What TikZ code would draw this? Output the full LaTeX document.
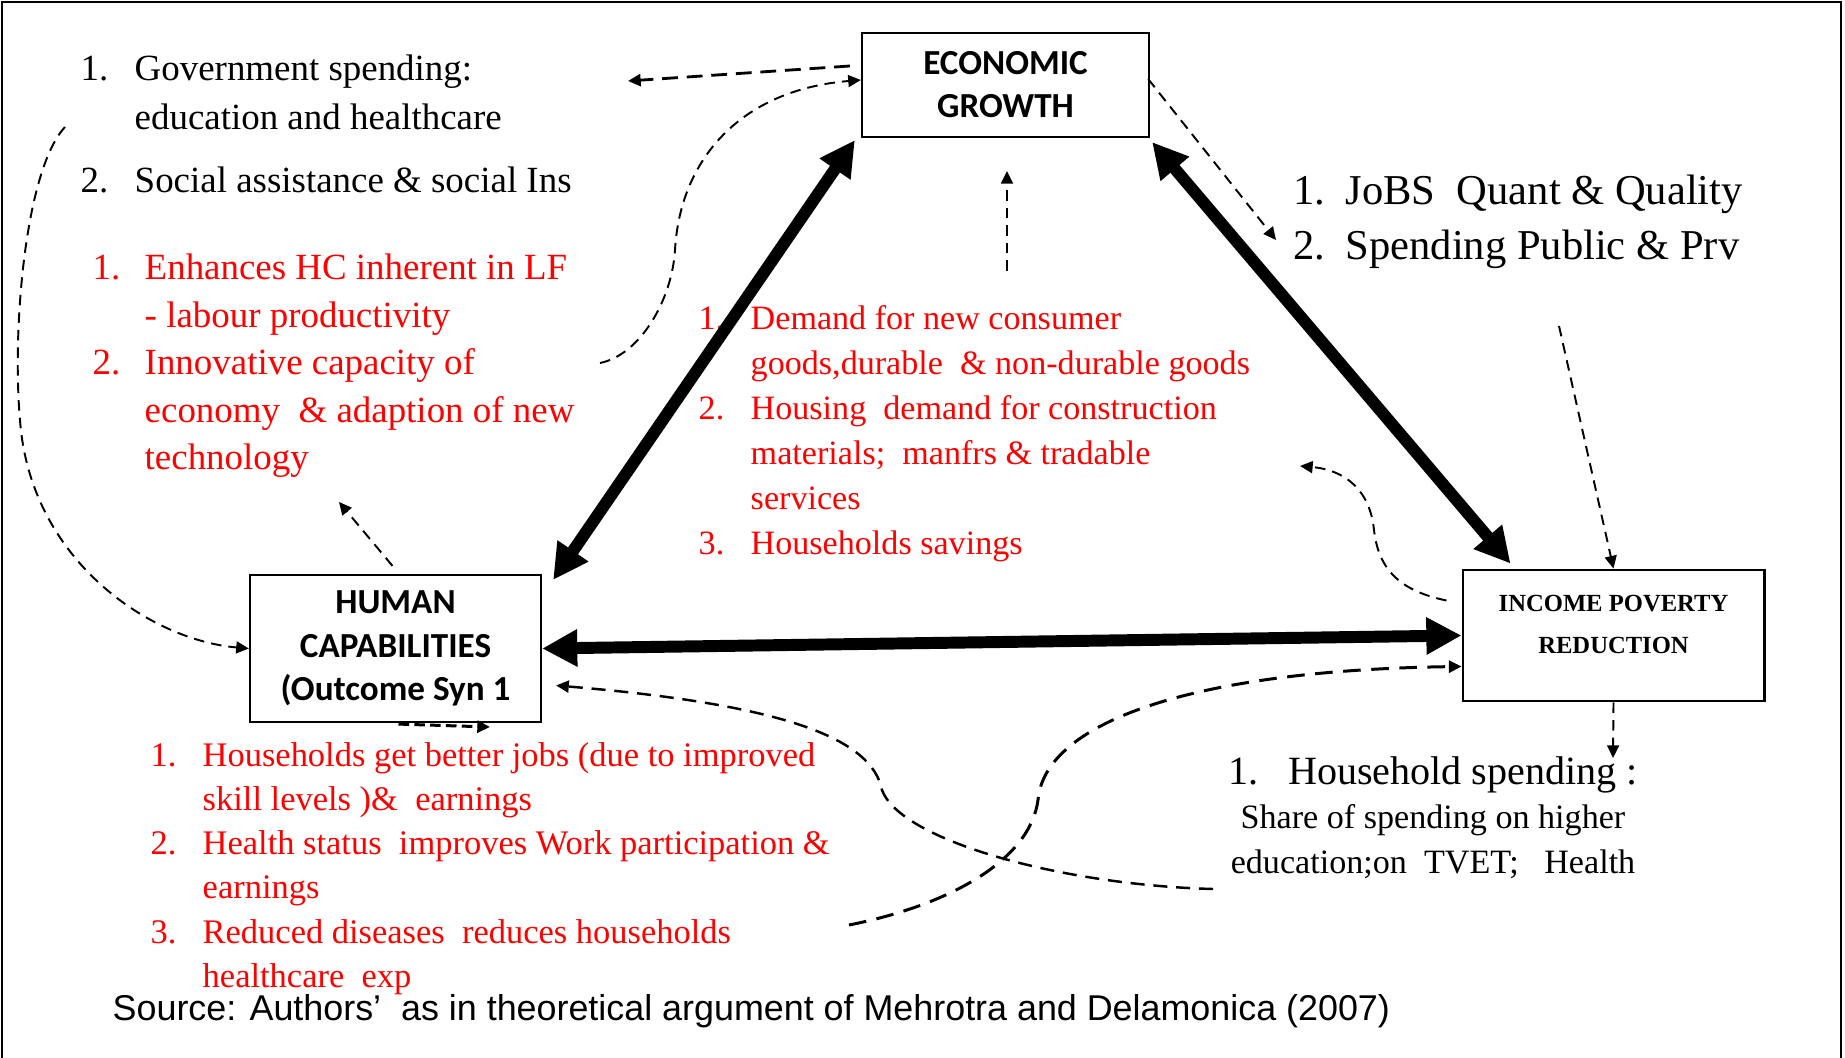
\documentclass[tikz,border=0pt]{standalone}
\usepackage{fontspec}
\setmainfont{Liberation Serif}
\setsansfont{Liberation Sans}
\newfontfamily\boxfont{Carlito}
\usetikzlibrary{arrows.meta, calc}

\definecolor{linkred}{RGB}{255, 0, 0}

\begin{document}
\begin{tikzpicture}[
    x=0.01cm, y=-0.01cm,
    box/.style={rectangle, draw, line width=0.6pt, inner sep=0pt, align=center},
    list/.style={anchor=base west, inner sep=0pt},
    bigarrow/.style={{Triangle[length=10pt, width=10pt]}-{Triangle[length=10pt, width=10pt]}, line width=3.4pt},
    dasharrow/.style={-{Triangle[length=3.6pt, width=3.4pt]}, line width=0.55pt, dash pattern=on 3pt off 2pt},
    heavydash/.style={dasharrow, line width=0.85pt, dash pattern=on 5pt off 3pt}
]
    \useasboundingbox (0,0) rectangle (1845,1058);
    % frame
    \draw[line width=0.6pt] (2,1058) -- (2,2) -- (1841,2) -- (1841,1058);

    % Outcome boxes
    \node[box, minimum width=2.87cm, minimum height=1.04cm, font=\boxfont\bfseries\fontsize{10}{12.2}\selectfont] (growth) at (1005.5,85) {ECONOMIC\\GROWTH};
    \node[box, minimum width=2.91cm, minimum height=1.47cm, font=\boxfont\bfseries\fontsize{10}{12.4}\selectfont] (capab) at (395.5,648.5) {HUMAN\\CAPABILITIES\\(Outcome Syn 1};
    \node[box, line width=0.8pt, minimum width=3.01cm, minimum height=1.31cm] (poverty) at (1613.5,635.5) {};
    \node[align=center, font=\bfseries\fontsize{7}{11.95}\selectfont] (povertytext) at (1613.5,624) {INCOME POVERTY\\REDUCTION};

    % Channel lists
    \node[list, font=\fontsize{10.5}{13.66}\selectfont] (govt) at (80,81) {%
        \begin{tabular}[t]{@{}p{0.54cm}@{}l@{}}
        1. & Government spending:\\
           & education and healthcare\\[4.5pt]
        2. & Social assistance \& social Ins
        \end{tabular}};
    \node[list, text=linkred, font=\fontsize{10.5}{13.5}\selectfont] (hcgain) at (92,280) {%
        \begin{tabular}[t]{@{}p{0.52cm}@{}l@{}}
        1. & Enhances HC inherent in LF\\
           & - labour productivity\\
        2. & Innovative capacity of\\
           & economy~ \& adaption of new\\
           & technology
        \end{tabular}};
    \node[list, text=linkred, font=\fontsize{9.7}{12.75}\selectfont] (demand) at (698,330) {%
        \begin{tabular}[t]{@{}p{0.52cm}@{}l@{}}
        1. & Demand for new consumer\\
           & goods,durable~ \& non-durable goods\\
        2. & Housing~ demand for construction\\
           & materials;~ manfrs \& tradable\\
           & services\\
        3. & Households savings
        \end{tabular}};
    \node[list, font=\fontsize{12.1}{15.4}\selectfont] (jobs) at (1293,205) {%
        \begin{tabular}[t]{@{}p{0.52cm}@{}l@{}}
        1. & JoBS~ Quant \& Quality\\
        2. & Spending Public \& Prv
        \end{tabular}};
    \node[list, text=linkred, font=\fontsize{9.8}{12.6}\selectfont] (hhgain) at (150,766) {%
        \begin{tabular}[t]{@{}p{0.52cm}@{}l@{}}
        1. & Households get better jobs (due to improved\\
           & skill levels )\&~ earnings\\
        2. & Health status~ improves Work participation \&\\
           & earnings\\
        3. & Reduced diseases~ reduces households\\
           & healthcare~ exp
        \end{tabular}};
    \node[anchor=base, inner sep=0pt, font=\fontsize{9.7}{12.66}\selectfont] (hhspend) at (1433,784) {%
        \begin{tabular}[t]{@{}c@{}}
        {\fontsize{11.4}{12.66}\selectfont 1.\hspace{0.3cm}Household spending :}\\
        Share of spending on higher\\
        education;on~ TVET;~~ Health
        \end{tabular}};
    \node[list, font=\sffamily\fontsize{10.2}{12}\selectfont] (source) at (112,1020) {Source: Authors’~ as in theoretical argument of Mehrotra and Delamonica (2007)};

    % loose ends of the feedback links
    \coordinate (govtend) at (628,81);
    \coordinate (hcstart) at (600,363);
    \coordinate (leftstart) at (65,127);
    \coordinate (techend) at (339,502);
    \coordinate (midlow) at (1007,271);
    \coordinate (midup) at (1007,171);
    \coordinate (jobsend) at (1276,240);
    \coordinate (spendtop) at (1559,326);
    \coordinate (savingsend) at (1300,466);
    \coordinate (jobgainstart) at (849,925);
    \coordinate (hhspendend) at (1213,889);
    \coordinate (hhgainend) at (490,727);
    \coordinate (hhspendtop) at (1613,758);

    % main two-way links
    \draw[bigarrow] ([shift={(11,6)}]capab.north east) -- ([shift={(-6,2)}]growth.south west);
    \draw[bigarrow] ([shift={(2,4)}]growth.south east) -- ([shift={(49,-5)}]poverty.north west);
    \draw[bigarrow] (capab.east) -- (poverty.west);

    % feedback links
    \draw[dasharrow, line width=0.8pt, dash pattern=on 4.5pt off 2.5pt] ([shift={(-11,-19)}]growth.west) -- (govtend);
    \draw[dasharrow] (hcstart) .. controls (640,355) and (672,300) .. (675,250)
        .. controls (680,160) and (740,90) .. ([shift={(0,-5)}]growth.west);
    \draw[dasharrow] (leftstart) .. controls (25,170) and (12,330) .. (20,420)
        .. controls (30,560) and (150,640) .. (capab.west);
    \draw[dasharrow] ([shift={(-3,-8)}]capab.north) -- (techend);
    \draw[dasharrow] (midlow) -- (midup);
    \draw[dasharrow] ([shift={(-2,-6)}]growth.east) -- (jobsend);
    \draw[dasharrow] (spendtop) -- (poverty.north);
    \draw[dasharrow] ([shift={(-15,-35)}]poverty.west) .. controls (1395,590) and (1378,565) .. (1374,530)
        .. controls (1370,490) and (1345,470) .. (savingsend);
    \draw[heavydash] (jobgainstart) .. controls (950,905) and (1030,860) .. (1038,800)
        .. controls (1045,720) and (1200,670) .. ([shift={(0,31)}]poverty.west);
    \draw[dasharrow, line width=0.7pt, dash pattern=on 4pt off 2.5pt] (hhspendend) .. controls (1060,885) and (900,840) .. (882,790)
        .. controls (872,740) and (790,705) .. ([shift={(14,37)}]capab.east);
    \draw[heavydash, dash pattern=on 3pt off 1.5pt] ([shift={(3,1)}]capab.south) -- (hhgainend);
    \draw[dasharrow] (poverty.south) -- (hhspendtop);
\end{tikzpicture}
\end{document}
